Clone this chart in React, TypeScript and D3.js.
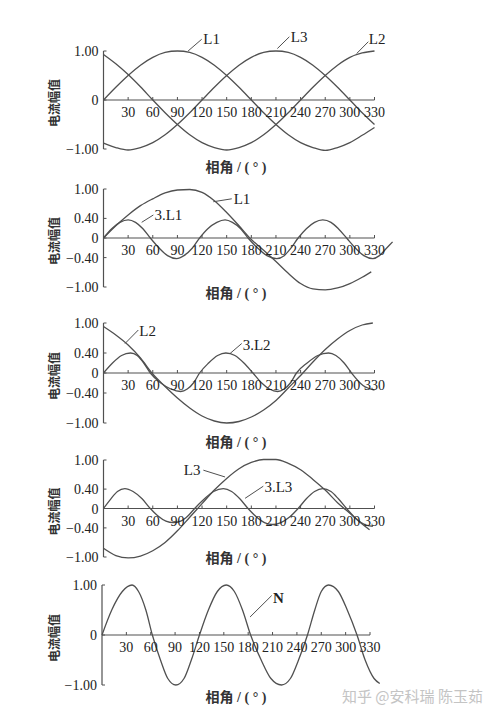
import React from 'react';
import * as d3 from 'd3';

// ---------- data ----------
const angleTicks = [30, 60, 90, 120, 150, 180, 210, 240, 270, 300, 330];
const yTicksSimple = [-1, 0, 1];
const yTicksFull = [-1, -0.4, 0, 0.4, 1];

// panel 1: L1, L2, L3 sampled every 15°
const p1Angles = [0, 15, 30, 45, 60, 75, 90, 105, 120, 135, 150, 165, 180, 195, 210, 225, 240, 255, 270, 285, 300, 315, 330];
const p1L1 = [0, 0.26, 0.5, 0.71, 0.87, 0.97, 1.0, 0.97, 0.87, 0.71, 0.5, 0.26, 0, -0.26, -0.5, -0.71, -0.87, -0.97, -1.03, -0.97, -0.87, -0.72, -0.56];
const p1L2 = [0.93, 0.74, 0.52, 0.27, 0, -0.26, -0.5, -0.71, -0.87, -0.97, -1.02, -0.97, -0.87, -0.71, -0.5, -0.26, 0, 0.26, 0.5, 0.71, 0.87, 0.96, 1.0];
const p1L3 = [-0.88, -0.97, -1.02, -0.97, -0.87, -0.71, -0.5, -0.26, 0, 0.26, 0.5, 0.71, 0.87, 0.97, 1.0, 0.97, 0.87, 0.71, 0.5, 0.26, 0, -0.26, -0.5];

// panel 2: L1 and its 3rd harmonic
const p2L1Angles = [0, 15, 30, 45, 60, 75, 90, 105, 120, 135, 150, 165, 180, 195, 210, 225, 240, 255, 270, 285, 300, 315, 326];
const p2L1 = [0, 0.25, 0.47, 0.66, 0.8, 0.92, 0.98, 0.99, 0.93, 0.76, 0.52, 0.25, -0.03, -0.25, -0.48, -0.72, -0.93, -1.04, -1.06, -1.02, -0.93, -0.8, -0.69];
const p2HAngles = [0, 10, 20, 30, 39, 48, 57, 68, 78, 89, 98, 108, 117, 127, 138, 148, 157, 167, 176, 188, 199, 211, 220, 228, 237, 247, 257, 267, 277, 286, 296, 307, 317, 328, 336, 344, 352];
const p2H = [0, 0.19, 0.32, 0.37, 0.32, 0.19, 0, -0.21, -0.36, -0.42, -0.36, -0.21, 0, 0.19, 0.32, 0.37, 0.32, 0.19, 0, -0.21, -0.36, -0.42, -0.36, -0.21, 0, 0.19, 0.32, 0.37, 0.32, 0.19, 0, -0.21, -0.36, -0.42, -0.36, -0.22, -0.08];

// panel 3: L2 and its 3rd harmonic
const p3L2Angles = [0, 15, 30, 45, 60, 75, 90, 105, 120, 135, 150, 165, 180, 195, 210, 225, 240, 255, 270, 285, 300, 315, 328];
const p3L2 = [0.93, 0.76, 0.56, 0.3, -0.02, -0.27, -0.5, -0.7, -0.86, -0.96, -1.0, -0.97, -0.88, -0.74, -0.55, -0.3, -0.05, 0.22, 0.47, 0.68, 0.85, 0.96, 1.0];
const p3HAngles = [0, 11, 22, 33, 41, 49, 57, 69, 82, 94, 102, 110, 117, 128, 139, 149, 160, 171, 182, 192, 202, 212, 220, 228, 235, 248, 261, 274, 283, 293, 302, 316, 330];
const p3H = [0, 0.2, 0.35, 0.4, 0.35, 0.2, 0, -0.19, -0.32, -0.37, -0.32, -0.19, 0, 0.2, 0.35, 0.4, 0.35, 0.2, 0, -0.19, -0.32, -0.37, -0.32, -0.19, 0, 0.2, 0.35, 0.4, 0.35, 0.2, 0, -0.25, -0.34];

// panel 4: L3 and its 3rd harmonic
const p4L3Angles = [0, 15, 30, 45, 60, 75, 90, 105, 120, 135, 150, 165, 180, 195, 210, 225, 240, 255, 270, 285, 300, 315, 324];
const p4L3 = [-0.82, -0.97, -1.02, -0.98, -0.87, -0.7, -0.46, -0.18, 0.1, 0.38, 0.62, 0.82, 0.95, 1.01, 1.01, 0.93, 0.8, 0.6, 0.38, 0.12, -0.1, -0.32, -0.44];
const p4HAngles = [0, 9, 17, 26, 36, 47, 57, 66, 76, 85, 94, 103, 111, 123, 134, 146, 156, 166, 176, 186, 196, 206, 216, 227, 237, 247, 257, 267, 277, 286, 296, 307, 318, 328];
const p4H = [0, 0.2, 0.35, 0.41, 0.35, 0.2, 0, -0.15, -0.26, -0.29, -0.26, -0.15, 0, 0.2, 0.35, 0.41, 0.35, 0.2, 0, -0.17, -0.29, -0.33, -0.29, -0.17, 0, 0.2, 0.35, 0.41, 0.35, 0.2, 0, -0.2, -0.33, -0.37];

// panel 5: neutral current N
const p5NAngles = [0, 12, 25, 37, 45, 54, 62, 72, 81, 91, 101, 110, 120, 131, 142, 153, 163, 173, 183, 196, 208, 221, 232, 242, 253, 262, 270, 279, 291, 302, 314, 324, 335, 342];
const p5N = [0, 0.5, 0.87, 1.0, 0.87, 0.5, 0, -0.5, -0.87, -1.0, -0.87, -0.5, 0, 0.5, 0.87, 1.0, 0.87, 0.5, 0, -0.5, -0.87, -1.0, -0.87, -0.5, 0, 0.5, 0.87, 1.0, 0.87, 0.5, 0, -0.5, -0.87, -0.97];

// ---------- drawing ----------
const LINE = '#505050';
const TEXT = '#222';
const SERIF = '"Liberation Serif", "Times New Roman", serif';
const CJK = '"Liberation Serif", "Noto Sans CJK SC", sans-serif';

type Series = { xs: number[]; ys: number[] };
type Note = { text: string; from: [number, number]; to: [number, number]; at: [number, number]; anchor?: string; bold?: boolean };
type Panel = {
  x0: number; x330: number; yTop: number; yBottom: number;
  yTicks: number[]; titleY: number; series: Series[]; notes: Note[];
};

const fmt = (v: number) => (v === 0 ? '0' : d3.format('.2f')(v));

function PanelView({ p }: { p: Panel }) {
  const x = d3.scaleLinear().domain([0, 330]).range([p.x0, p.x330]);
  const y = d3.scaleLinear().domain([-1, 1]).range([p.yBottom, p.yTop]);
  const line = d3
    .line<[number, number]>()
    .x((d) => x(d[0]))
    .y((d) => y(d[1]))
    .curve(d3.curveMonotoneX);
  const zero = y(0);
  return (
    <g>
      {p.series.map((s, i) => (
        <path
          key={i}
          d={line(s.xs.map((a, j) => [a, s.ys[j]] as [number, number])) || ''}
          fill="none"
          stroke={LINE}
          strokeWidth={1.3}
        />
      ))}
      {/* axes */}
      <line x1={p.x0} x2={p.x0} y1={y(1)} y2={y(-1)} stroke={LINE} strokeWidth={1.2} />
      <line x1={p.x0} x2={x(330)} y1={zero} y2={zero} stroke={LINE} strokeWidth={1.2} />
      {angleTicks.map((t) => (
        <g key={t}>
          <line x1={x(t)} x2={x(t)} y1={zero} y2={zero - 3} stroke={LINE} strokeWidth={1} />
          <text x={x(t)} y={zero + 17} textAnchor="middle" fontFamily={SERIF} fontSize={14} fill={TEXT}>
            {t}
          </text>
        </g>
      ))}
      {p.yTicks.map((t) => (
        <g key={t}>
          <line x1={p.x0} x2={p.x0 + 3} y1={y(t)} y2={y(t)} stroke={LINE} strokeWidth={1} />
          <text x={p.x0 - 5} y={y(t) + 5} textAnchor="end" fontFamily={SERIF} fontSize={14} fill={TEXT}>
            {fmt(t)}
          </text>
        </g>
      ))}
      <text
        transform={`translate(55,${zero + 3}) rotate(-90)`}
        textAnchor="middle"
        dominantBaseline="central"
        fontFamily={CJK}
        fontWeight="bold"
        fontSize={12}
        fill="#333"
      >
        电流幅值
      </text>
      <text x={236} y={p.titleY + 5} textAnchor="middle" fontFamily={CJK} fontWeight="bold" fontSize={14} fill="#333">
        相角 / ( ° )
      </text>
      {p.notes.map((n, i) => (
        <g key={i}>
          <line x1={x(n.from[0])} y1={y(n.from[1])} x2={x(n.to[0])} y2={y(n.to[1])} stroke={LINE} strokeWidth={1} />
          <text
            x={x(n.at[0])}
            y={y(n.at[1]) + 5}
            textAnchor={n.anchor || 'start'}
            fontFamily={SERIF}
            fontWeight={n.bold ? 'bold' : 'normal'}
            fontSize={15}
            fill={TEXT}
          >
            {n.text}
          </text>
        </g>
      ))}
    </g>
  );
}

export default function App() {
  const panels: Panel[] = [
    {
      x0: 103.5, x330: 374.5, yTop: 51, yBottom: 149, yTicks: yTicksSimple, titleY: 167,
      series: [
        { xs: p1Angles, ys: p1L1 },
        { xs: p1Angles, ys: p1L2 },
        { xs: p1Angles, ys: p1L3 },
      ],
      notes: [
        { text: 'L1', from: [103, 1.0], to: [119.6, 1.24], at: [121.5, 1.24] },
        { text: 'L3', from: [211.7, 1.05], to: [226.3, 1.29], at: [228, 1.29] },
        { text: 'L2', from: [308.4, 0.95], to: [322.5, 1.19], at: [323, 1.24] },
      ],
    },
    {
      x0: 103.5, x330: 374.5, yTop: 189, yBottom: 287, yTicks: yTicksFull, titleY: 293,
      series: [
        { xs: p2L1Angles, ys: p2L1 },
        { xs: p2HAngles, ys: p2H },
      ],
      notes: [
        { text: 'L1', from: [133.7, 0.74], to: [156.2, 0.8], at: [158.5, 0.8] },
        { text: '3.L1', from: [46.5, 0.32], to: [60.7, 0.47], at: [62, 0.47] },
      ],
    },
    {
      x0: 103.5, x330: 374.5, yTop: 323, yBottom: 423, yTicks: yTicksFull, titleY: 442,
      series: [
        { xs: p3L2Angles, ys: p3L2 },
        { xs: p3HAngles, ys: p3H },
      ],
      notes: [
        { text: 'L2', from: [26.2, 0.59], to: [42.4, 0.86], at: [43.5, 0.85] },
        { text: '3.L2', from: [154.1, 0.39], to: [168.3, 0.59], at: [169.5, 0.56] },
      ],
    },
    {
      x0: 103.5, x330: 374.5, yTop: 460, yBottom: 557, yTicks: yTicksFull, titleY: 558,
      series: [
        { xs: p4L3Angles, ys: p4L3 },
        { xs: p4HAngles, ys: p4H },
      ],
      notes: [
        { text: 'L3', from: [148, 0.65], to: [121.6, 0.79], at: [118, 0.79], anchor: 'end' },
        { text: '3.L3', from: [172.4, 0.21], to: [194.6, 0.46], at: [196, 0.45] },
      ],
    },
    {
      x0: 102, x330: 370, yTop: 585, yBottom: 685, yTicks: yTicksSimple, titleY: 697,
      series: [{ xs: p5NAngles, ys: p5N }],
      notes: [{ text: 'N', from: [182.3, 0.36], to: [209, 0.79], at: [210.6, 0.74], bold: true }],
    },
  ];
  return (
    <svg
      width={500}
      height={719}
      style={{ position: 'absolute', left: 0, top: 0, background: '#fff' }}
    >
      <rect width={500} height={719} fill="#fff" />
      {panels.map((p, i) => (
        <PanelView key={i} p={p} />
      ))}
      <text x={342} y={702} fontFamily='"Noto Sans CJK SC", sans-serif' fontSize={15} fill="#c4c4c4">
        知乎 @安科瑞 陈玉茹
      </text>
    </svg>
  );
}
